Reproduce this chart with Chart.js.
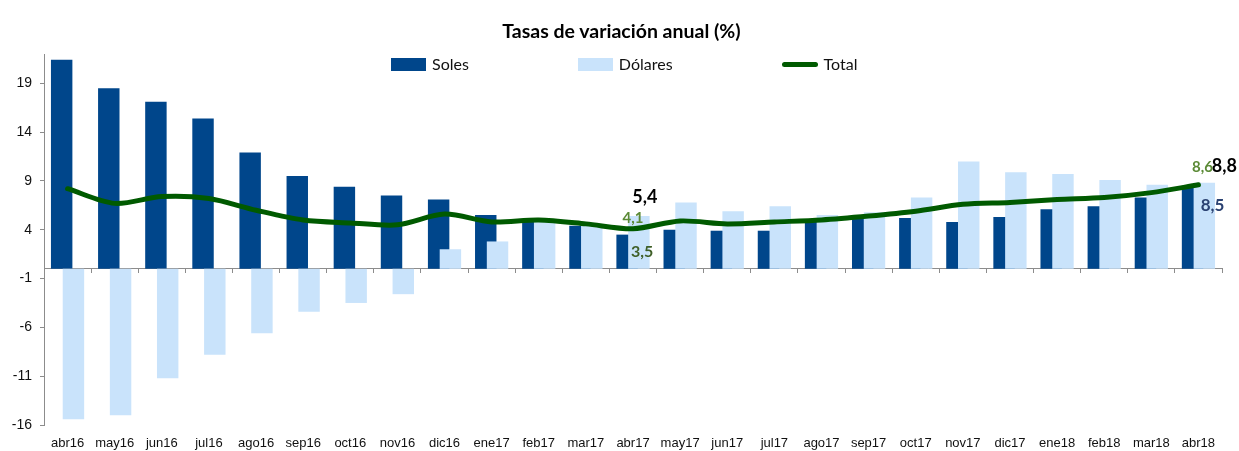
<!DOCTYPE html>
<html lang="es">
<head>
<meta charset="utf-8">
<title>Tasas de variación anual (%)</title>
<script src="https://cdn.jsdelivr.net/npm/chart.js@4.4.1/dist/chart.umd.min.js"></script>
<style>
  html, body { margin:0; padding:0; background:#fff; }
  #wrap { position:relative; width:1239px; height:451px; overflow:hidden; }
  #chart { position:absolute; left:0; top:0; }
  .title { position:absolute; left:0; width:1243px; top:19px; line-height:22px; text-align:center; font:bold 19.5px Lato, sans-serif; color:#000; }
  .legend { position:absolute; top:56px; left:391px; height:16px; display:flex; gap:109px; font:16px/16px Lato, sans-serif; color:#111; }
  .legend span { display:flex; align-items:center; white-space:nowrap; }
  .legend i { display:inline-block; width:35px; height:13px; margin-right:6px; }
  .legend i.line { width:36px; height:5px; border-radius:3px; }
</style>
</head>
<body>
<div id="wrap">
  <canvas id="chart" width="1239" height="451"></canvas>
  <div class="title">Tasas de variación anual (%)</div>
  <div class="legend" id="legend"></div>
</div>
<script>
// monthly annual growth rates (%)
const months = ['abr16','may16','jun16','jul16','ago16','sep16','oct16','nov16','dic16','ene17','feb17','mar17',
                'abr17','may17','jun17','jul17','ago17','sep17','oct17','nov17','dic17','ene18','feb18','mar18','abr18'];
const soles   = [21.4, 18.5, 17.1, 15.4, 11.9, 9.5, 8.4, 7.5, 7.1, 5.5, 5.0, 4.4, 3.5, 4.0, 3.9, 3.9, 5.1, 5.2, 5.2, 4.8, 5.3, 6.1, 6.4, 7.3, 8.5];
const dolares = [-15.4, -15.0, -11.2, -8.8, -6.6, -4.4, -3.5, -2.6, 2.0, 2.8, 4.9, 4.5, 5.4, 6.8, 5.9, 6.4, 5.5, 5.8, 7.3, 11.0, 9.9, 9.7, 9.1, 8.6, 8.8];
const total   = [8.2, 6.7, 7.4, 7.2, 6.0, 5.0, 4.7, 4.5, 5.6, 4.8, 5.0, 4.6, 4.1, 4.9, 4.6, 4.8, 5.0, 5.4, 5.9, 6.6, 6.8, 7.1, 7.3, 7.8, 8.6];
const yTicks  = [-16, -11, -6, -1, 4, 9, 14, 19];

const C_SOLES = '#00468B', C_DOL = '#C9E3FB', C_TOTAL = '#005A00', C_AXIS = '#8c8c8c';
const tickFont = "'Liberation Sans Narrow', 'Arial Narrow', 'Liberation Sans', Arial, sans-serif";
const fmtEs = v => v.toFixed(1).replace('.', ',');

// value labels at abr17 and abr18 (ds: dataset index, i: month index)
const callouts = [
  { ds:1, i:12, color:'#000',    size:18, dx:6,  dy:-19 },
  { ds:2, i:12, color:'#5B8A36', size:15, dx:0,  dy:-11 },
  { ds:0, i:12, color:'#3F5F28', size:16, dx:15, dy:17 },
  { ds:1, i:24, color:'#000',    size:18, dx:20, dy:-17 },
  { ds:2, i:24, color:'#5B8A36', size:15, dx:4,  dy:-18 },
  { ds:0, i:24, color:'#2B4272', size:17, dx:20, dy:20 }
];

// soles first, dolares over it (bars overlap), total on top
const drawInOrder = {
  id: 'drawInOrder',
  beforeDatasetsDraw(chart) {
    chart.data.datasets.forEach((_, i) => {
      const meta = chart.getDatasetMeta(i);
      if (!meta.hidden) meta.controller.draw();
    });
    return false;
  }
};

const calloutLabels = {
  id: 'calloutLabels',
  afterDraw(chart) {
    const ctx = chart.ctx;
    ctx.save();
    ctx.textAlign = 'center';
    ctx.textBaseline = 'middle';
    callouts.forEach(c => {
      const el = chart.getDatasetMeta(c.ds).data[c.i];
      const v = chart.data.datasets[c.ds].data[c.i];
      ctx.font = `bold ${c.size}px Lato, sans-serif`;
      ctx.fillStyle = c.color;
      ctx.fillText(fmtEs(v), el.x + c.dx, el.y + c.dy);
    });
    ctx.restore();
  }
};

const chart = new Chart(document.getElementById('chart'), {
  type: 'bar',
  data: {
    labels: months,
    datasets: [
      { label: 'Soles', data: soles, backgroundColor: C_SOLES },
      { label: 'Dólares', data: dolares, backgroundColor: C_DOL },
      { type: 'line', label: 'Total', data: total, borderColor: C_TOTAL, borderWidth: 5, pointRadius: 0,
        tension: 0.3, fill: false, borderCapStyle: 'round', borderJoinStyle: 'round' }
    ]
  },
  options: {
    responsive: false,
    animation: false,
    datasets: { bar: { categoryPercentage: 0.5, barPercentage: 1.82 } },
    layout: { padding: { top: 54, right: 17, left: 0, bottom: 0 } },
    plugins: { legend: { display: false }, tooltip: { enabled: false } },
    scales: {
      x: {
        offset: true,
        grid: { display: false, drawTicks: false },
        border: { display: false },
        ticks: { font: { family: tickFont, size: 13 }, color: '#111', padding: 11, maxRotation: 0, autoSkip: false },
        afterFit: s => { s.height = 26; }
      },
      xZero: {
        type: 'category',
        position: { y: 0 },
        offset: true,
        grid: { offset: true, drawOnChartArea: false, tickLength: 4, color: C_AXIS },
        border: { color: C_AXIS },
        ticks: { display: false }
      },
      y: {
        min: -16, max: 22,
        afterBuildTicks: s => { s.ticks = yTicks.map(value => ({ value })); },
        grid: { drawOnChartArea: false, tickLength: 4, color: C_AXIS },
        border: { color: C_AXIS },
        ticks: { font: { family: tickFont, size: 14 }, color: '#111', padding: 8 },
        afterFit: s => { s.width = 44; }
      }
    }
  },
  plugins: [drawInOrder, calloutLabels]
});

// legend from the dataset styles
document.getElementById('legend').innerHTML = chart.data.datasets.map(d =>
  d.type === 'line'
    ? `<span><i class="line" style="background:${d.borderColor}"></i>${d.label}</span>`
    : `<span><i style="background:${d.backgroundColor}"></i>${d.label}</span>`
).join('');
</script>
</body>
</html>
